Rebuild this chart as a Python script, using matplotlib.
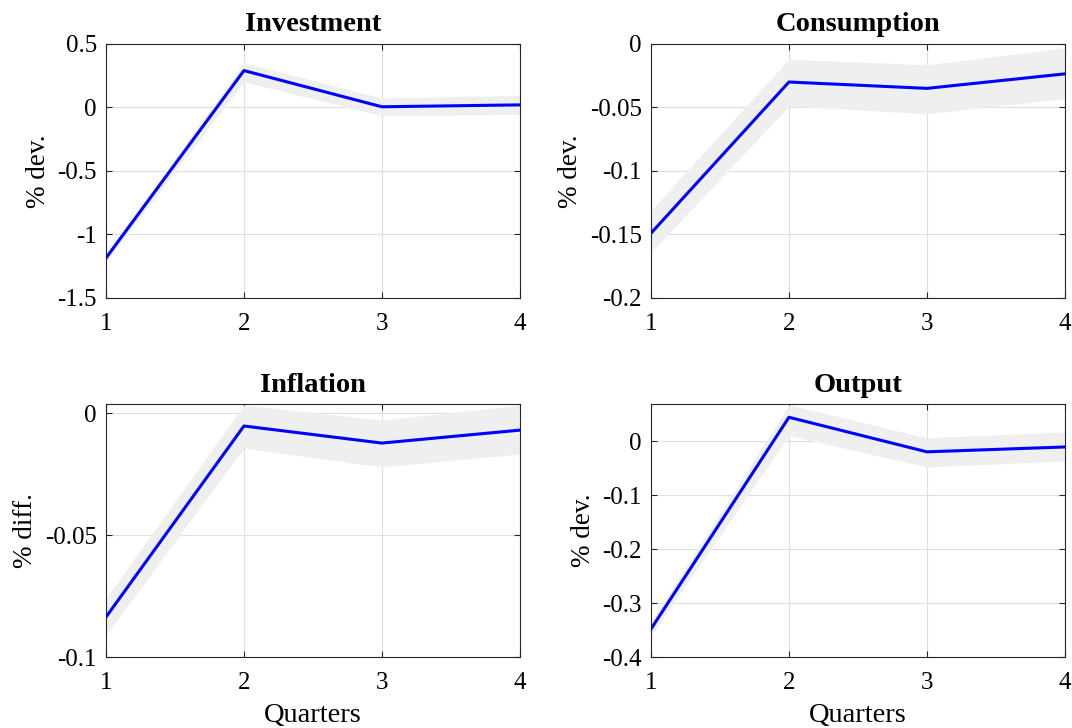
import matplotlib
matplotlib.use('Agg')
import matplotlib.pyplot as plt

plt.rcParams['font.family'] = ['Liberation Serif', 'DejaVu Serif']

quarters = [1, 2, 3, 4]

investment = [-1.185, 0.29, 0.005, 0.02]
investment_lo = [-1.21, 0.20, -0.065, -0.055]
investment_hi = [-1.16, 0.35, 0.075, 0.095]

consumption = [-0.149, -0.030, -0.035, -0.0236]
consumption_lo = [-0.164, -0.049, -0.055, -0.043]
consumption_hi = [-0.131, -0.012, -0.0165, -0.003]

inflation = [-0.0836, -0.0053, -0.0123, -0.007]
inflation_lo = [-0.091, -0.0143, -0.0221, -0.0168]
inflation_hi = [-0.0758, 0.0033, -0.0029, 0.0033]

output = [-0.348, 0.044, -0.020, -0.011]
output_lo = [-0.36, 0.010, -0.048, -0.037]
output_hi = [-0.335, 0.067, 0.006, 0.017]

panels = [
    ('Investment', investment, investment_lo, investment_hi, '% dev.',
     (-1.5, 0.5), [-1.5, -1, -0.5, 0, 0.5], ['-1.5', '-1', '-0.5', '0', '0.5']),
    ('Consumption', consumption, consumption_lo, consumption_hi, '% dev.',
     (-0.2, 0), [-0.2, -0.15, -0.1, -0.05, 0], ['-0.2', '-0.15', '-0.1', '-0.05', '0']),
    ('Inflation', inflation, inflation_lo, inflation_hi, '% diff.',
     (-0.1, 0.0037), [-0.1, -0.05, 0], ['-0.1', '-0.05', '0']),
    ('Output', output, output_lo, output_hi, '% dev.',
     (-0.4, 0.0685), [-0.4, -0.3, -0.2, -0.1, 0], ['-0.4', '-0.3', '-0.2', '-0.1', '0']),
]

positions = [
    [0.0989, 0.5907, 0.386, 0.349],
    [0.6073, 0.5907, 0.386, 0.349],
    [0.0989, 0.0975, 0.386, 0.3475],
    [0.6073, 0.0975, 0.386, 0.3475],
]

fig = plt.figure(figsize=(10.72, 7.28), dpi=100)

for i, (title, mid, lo, hi, ylab, ylim, yt, ytl) in enumerate(panels):
    ax = fig.add_axes(positions[i])
    ax.fill_between(quarters, lo, hi, color='#efefef', linewidth=0, zorder=2)
    ax.plot(quarters, mid, color='#0000ff', linewidth=2.2, zorder=3)
    ax.set_xlim(1, 4)
    ax.set_ylim(*ylim)
    ax.set_xticks(quarters)
    ax.set_xticklabels([str(q) for q in quarters])
    ax.set_yticks(yt)
    ax.set_yticklabels(ytl)
    ax.grid(True, color='#dedede', linewidth=0.8, zorder=0)
    ax.set_axisbelow(True)
    ax.tick_params(direction='in', top=True, right=True, length=4,
                   width=0.8, color='#262626', labelsize=18)
    ax.tick_params(axis='x', pad=11)
    ax.tick_params(axis='y', pad=6.5)
    for s in ax.spines.values():
        s.set_color('#262626')
        s.set_linewidth(0.8)
    ax.set_title(title, fontsize=20.5, fontweight='bold', pad=9)
    ax.set_ylabel(ylab, fontsize=19.5, labelpad=5)
    if i >= 2:
        ax.set_xlabel('Quarters', fontsize=20.5, labelpad=6)

fig.savefig('out.png', dpi=100)
